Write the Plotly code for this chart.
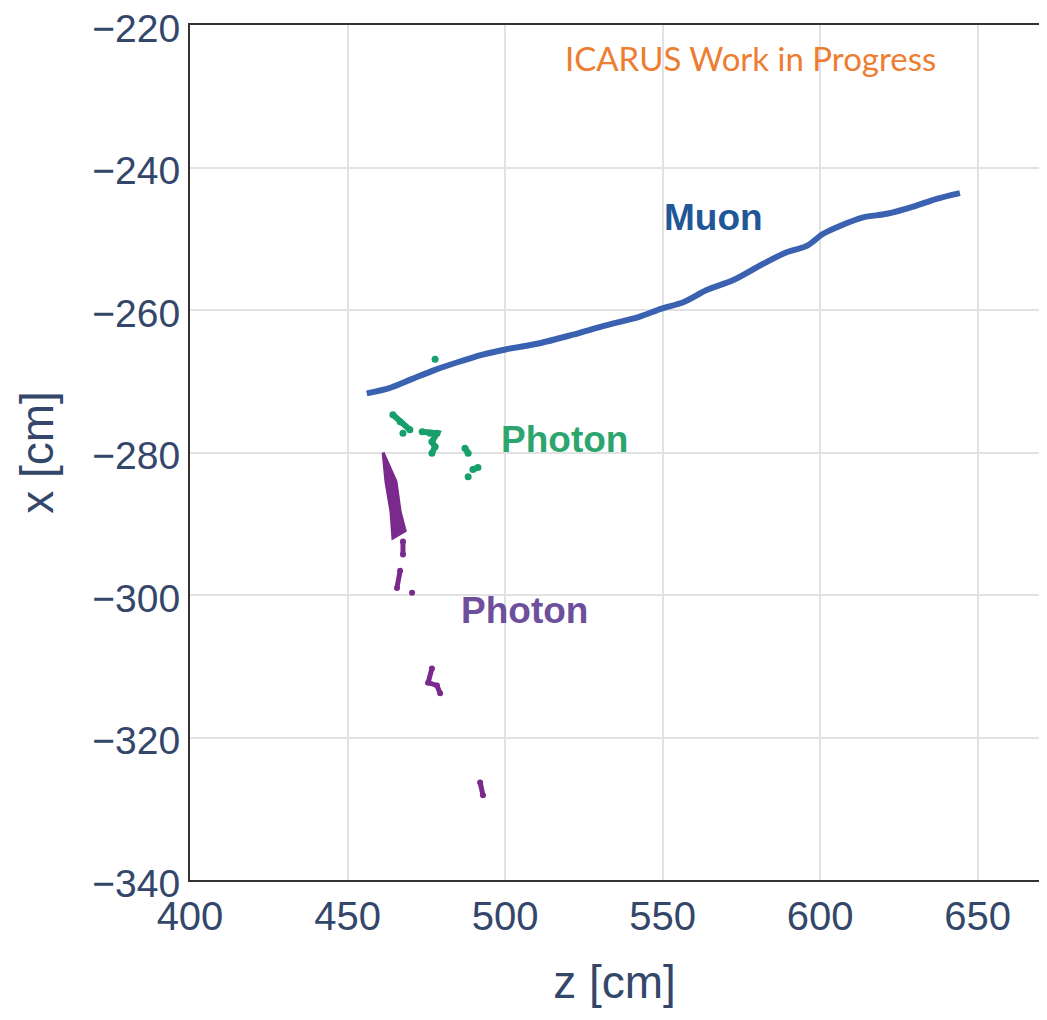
import plotly.graph_objects as go

# Muon track (z, x) in cm
muon_z = [456.1, 463.0, 470.4, 477.8, 485.2, 492.6, 500.5, 510.6, 521.2, 531.7, 542.3, 549.7, 556.6,
          564.0, 572.5, 582.0, 589.4, 595.8, 601.0, 606.3, 613.7, 621.2, 629.6, 637.0, 644.4]
muon_x = [-271.7, -271.0, -269.7, -268.4, -267.3, -266.3, -265.5, -264.7, -263.5, -262.2, -261.0, -259.8, -258.9,
          -257.2, -255.8, -253.5, -251.9, -251.0, -249.3, -248.2, -247.0, -246.5, -245.5, -244.4, -243.6]

# Photon 1 (green) clusters, None separates fragments
g_z = [477.8, None, 464.4, 466.7, 469.8, None, 467.6, None,
       473.7, 476.2, 478.4, 476.8, 477.8, 476.8, None,
       487.3, 488.3, None, 491.4, 489.8, None, 488.3]
g_x = [-266.9, None, -274.7, -275.7, -276.8, None, -277.3, None,
       -277.1, -277.3, -277.3, -278.5, -279.2, -280.1, None,
       -279.4, -280.1, None, -282.1, -282.4, None, -283.4]

# Photon 2 (purple): wedge outline
w_z = [461.3, 462.2, 463.8, 464.4, 468.3, 466.7, 465.4, 461.3]
w_x = [-280.0, -284.1, -288.3, -292.0, -291.0, -288.3, -284.1, -280.0]
# Photon 2 (purple): other fragments
p_z = [467.6, 467.6, None, 466.7, 465.7, None, 470.5, None,
       476.8, 475.6, 478.4, 479.4, None, 492.1, 493.0]
p_x = [-292.5, -294.3, None, -296.6, -299.0, None, -299.7, None,
       -310.3, -312.3, -312.7, -313.8, None, -326.3, -328.1]

MUON_C = "#3a62b0"
GREEN_C = "#17a06c"
PURPLE_C = "#7a2a8c"

fig = go.Figure()
fig.add_trace(go.Scatter(x=muon_z, y=muon_x, mode="lines",
                         line=dict(color=MUON_C, width=6, shape="spline", smoothing=0.8),
                         showlegend=False))
fig.add_trace(go.Scatter(x=g_z, y=g_x, mode="lines+markers",
                         line=dict(color=GREEN_C, width=6),
                         marker=dict(color=GREEN_C, size=7), showlegend=False))
fig.add_trace(go.Scatter(x=w_z, y=w_x, mode="lines", fill="toself",
                         fillcolor=PURPLE_C,
                         line=dict(color=PURPLE_C, width=3), showlegend=False))
fig.add_trace(go.Scatter(x=p_z, y=p_x, mode="lines+markers",
                         line=dict(color=PURPLE_C, width=5),
                         marker=dict(color=PURPLE_C, size=6), showlegend=False))

fig.add_annotation(x=566.3, y=-247.0, text="<b>Muon</b>", showarrow=False,
                   font=dict(family="Liberation Sans", size=37, color="#1f5797"))
fig.add_annotation(x=519.0, y=-278.2, text="<b>Photon</b>", showarrow=False,
                   font=dict(family="Liberation Sans", size=37, color="#2ca56e"))
fig.add_annotation(x=506.3, y=-302.2, text="<b>Photon</b>", showarrow=False,
                   font=dict(family="Liberation Sans", size=37, color="#6d4f9c"))
fig.add_annotation(x=577.8, y=-224.6, text="ICARUS Work in Progress", showarrow=False,
                   font=dict(family="Lato", size=33, color="#ed7d31"))

fig.update_layout(
    width=1031, height=1000,
    margin=dict(l=182, r=0, t=17, b=128, autoexpand=False),
    paper_bgcolor="white", plot_bgcolor="white",
    font=dict(family="Liberation Sans", color="#2a3f5f"),
    xaxis=dict(range=[400, 669.5], tickvals=[400, 450, 500, 550, 600, 650],
               showgrid=True, gridcolor="#e2e2e2", gridwidth=2,
               showline=True, linecolor="#333333", linewidth=2, mirror=True,
               zeroline=False, ticks="", ticklabeloverflow="allow", automargin=False,
               tickfont=dict(size=40, color="#34476a"),
               title=dict(text="z [cm]", font=dict(size=46, color="#34476a"), standoff=40)),
    yaxis=dict(range=[-340, -220], tickvals=[-340, -320, -300, -280, -260, -240, -220],
               showgrid=True, gridcolor="#e2e2e2", gridwidth=2,
               showline=True, linecolor="#333333", linewidth=2, mirror=False,
               zeroline=False, ticks="", ticklabeloverflow="allow", automargin=False,
               ticklabelshift=3,
               tickfont=dict(size=39, color="#34476a"),
               title=dict(text="x [cm]", font=dict(size=46, color="#34476a"), standoff=24)),
)

fig.write_html("out.html")
